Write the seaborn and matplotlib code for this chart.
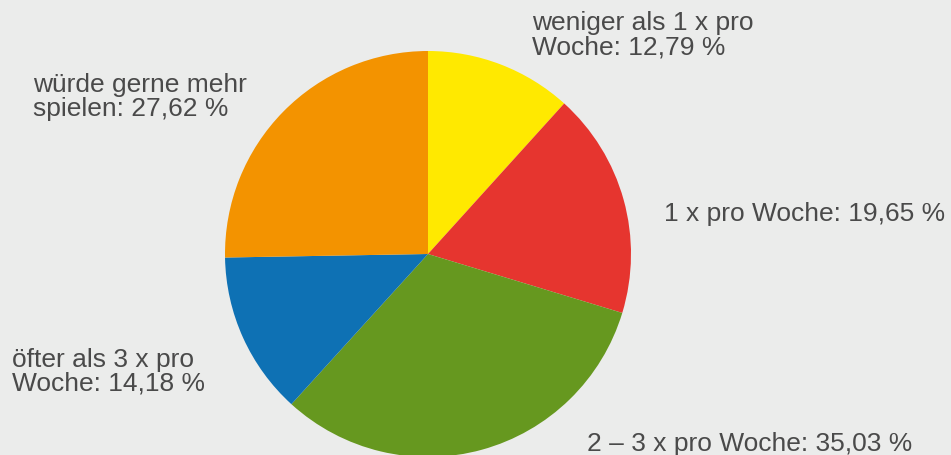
import matplotlib
matplotlib.use("Agg")
import matplotlib.pyplot as plt
import seaborn as sns

labels = ["weniger als 1 x pro\nWoche: 12,79 %", "1 x pro Woche: 19,65 %",
          "2 – 3 x pro Woche: 35,03 %", "öfter als 3 x pro\nWoche: 14,18 %",
          "würde gerne mehr\nspielen: 27,62 %"]
values = [12.79, 19.65, 35.03, 14.18, 27.62]
colors = ["#ffe900", "#e6352f", "#66981f", "#0e71b4", "#f39300"]

sns.set_theme(style="white")
plt.rcParams['font.family'] = ['Liberation Sans', 'DejaVu Sans']

W, H = 951, 456
fig = plt.figure(figsize=(W / 100, H / 100), dpi=100)
bg = "#ebeceb"
fig.patch.set_facecolor(bg)
ax = fig.add_axes([0, 0, 1, 1])
ax.set_facecolor(bg)

ax.pie(values, colors=colors, startangle=90, counterclock=False,
       center=(428, H - 255), radius=203, frame=True,
       wedgeprops=dict(linewidth=0))
ax.set_xlim(0, W)
ax.set_ylim(0, H)
ax.set_aspect("equal")
ax.axis("off")

# baseline positions of the last line of each label (pixels from top)
pos = [(532, 54), (664, 221), (587, 451), (12, 391), (33, 116)]
for lab, (x, y) in zip(labels, pos):
    ax.text(x, H - y, lab, ha="left", va="baseline", fontsize=19,
            color="#4a4a4a", linespacing=0.98)

fig.savefig("out.png", dpi=100, facecolor=bg)
